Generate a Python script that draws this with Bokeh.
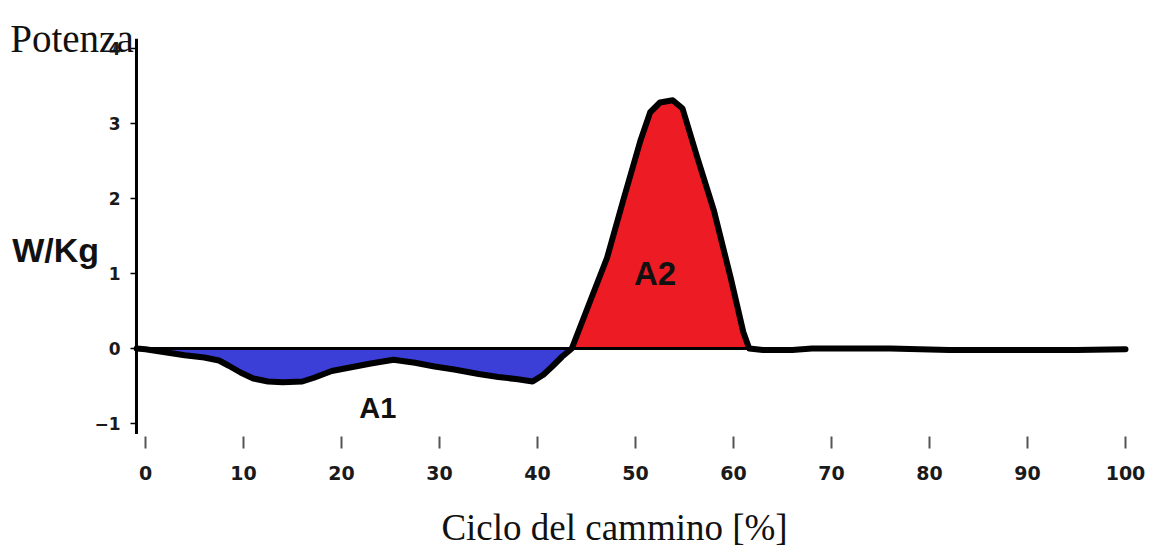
import numpy as np
from bokeh.plotting import figure
from bokeh.models import Range1d, FixedTicker, Label
from bokeh.embed import file_html
from bokeh.resources import INLINE

# Gait cycle (%) and ankle power (W/Kg)
cycle_pct = [-0.9, 0, 2, 4, 6, 7.5, 8.5, 9.7, 11, 12.5, 14, 16, 17.2, 19, 21, 23,
             25.3, 27.5, 29.5, 31.5, 34, 36, 38, 39.5, 40.6, 41.5, 42.5, 43.5,
             45.4, 47.1, 48.8, 50.5, 51.5, 52.5, 53.8, 54.8, 56.3, 58.0, 59.7,
             61.0, 61.6, 63, 66, 68, 72, 76, 82, 88, 95, 100]
power = [0.0, -0.01, -0.05, -0.09, -0.12, -0.16, -0.23, -0.32, -0.40, -0.44,
         -0.45, -0.44, -0.39, -0.30, -0.25, -0.20, -0.15, -0.19, -0.24, -0.28,
         -0.34, -0.38, -0.41, -0.44, -0.35, -0.24, -0.11, 0.0,
         0.64, 1.21, 2.00, 2.77, 3.15, 3.28, 3.31, 3.20, 2.55, 1.84, 0.95,
         0.22, 0.0, -0.02, -0.02, 0.0, 0.0, 0.0, -0.02, -0.02, -0.02, -0.01]

# Phase boundaries (absorption A1, generation A2)
a1_span = (0.0, 43.5)
a2_span = (43.5, 61.6)

x_ticks = [0, 10, 20, 30, 40, 50, 60, 70, 80, 90, 100]
y_ticks = [-1, 0, 1, 2, 3, 4]

# Where the axes sit and how far the vertical axis line reaches
y_axis_at = -0.92
x_axis_at = -1.173
y_axis_extent = (-1.14, 4.13)

x = np.array(cycle_pct)
y = np.array(power)

# The plotting frame fills the whole canvas; axes are pinned inside it
p = figure(width=1153, height=548, output_backend="svg", toolbar_location=None,
           x_range=Range1d(-145 / 9.8, 1008 / 9.8),
           y_range=Range1d(-200 / 75, 348 / 75),
           min_border=0)
p.outline_line_color = None
p.background_fill_color = "white"
p.border_fill_color = "white"
p.xgrid.visible = False
p.ygrid.visible = False

# Filled areas
m1 = (x >= a1_span[0]) & (x <= a1_span[1])
p.varea(x=x[m1], y1=np.minimum(y[m1], 0), y2=0, fill_color="#3b3fd8")
m2 = (x >= a2_span[0]) & (x <= a2_span[1])
p.varea(x=x[m2], y1=0, y2=np.maximum(y[m2], 0), fill_color="#ed1c24")

# Zero baseline and power curve
p.line(x=[x[0], 100], y=[0, 0], line_color="black", line_width=3)
p.line(x=x, y=y, line_color="black", line_width=6,
       line_join="round", line_cap="round")

# Vertical axis line
p.segment(x0=[y_axis_at], y0=[y_axis_extent[0]], x1=[y_axis_at],
          y1=[y_axis_extent[1]], line_color="black", line_width=3)

tick_font = "DejaVu Sans"

yax = p.yaxis[0]
yax.fixed_location = y_axis_at
yax.ticker = FixedTicker(ticks=y_ticks)
yax.axis_line_color = None
yax.major_tick_out = 6
yax.major_tick_in = 0
yax.major_tick_line_width = 1.5
yax.minor_tick_line_color = None
yax.major_label_standoff = 10
yax.major_label_text_font = tick_font
yax.major_label_text_font_style = "bold"
yax.major_label_text_font_size = "17px"
yax.major_label_text_color = "#1a1a1a"

xax = p.xaxis[0]
xax.fixed_location = x_axis_at
xax.ticker = FixedTicker(ticks=x_ticks)
xax.axis_line_color = None
xax.major_tick_out = 12
xax.major_tick_in = 0
xax.major_tick_line_width = 2
xax.major_tick_line_color = "#555555"
xax.minor_tick_line_color = None
xax.major_label_standoff = 18
xax.major_label_text_font = tick_font
xax.major_label_text_font_style = "bold"
xax.major_label_text_font_size = "19px"
xax.major_label_text_color = "#1a1a1a"

# Text annotations
p.add_layout(Label(x=-13.8, y=4.133, text="Potenza", text_font="Liberation Serif",
                   text_font_size="39px", text_color="#111111",
                   text_align="left", text_baseline="alphabetic"))
p.add_layout(Label(x=-13.6, y=1.307, text="W/Kg", text_font="Liberation Sans",
                   text_font_size="34px", text_font_style="bold", text_color="#111111",
                   text_align="left", text_baseline="alphabetic"))
p.add_layout(Label(x=47.86, y=-2.387, text="Ciclo del cammino [%]",
                   text_font="Liberation Serif", text_font_size="37px",
                   text_color="#111111", text_align="center",
                   text_baseline="alphabetic"))
p.add_layout(Label(x=23.7, y=-0.787, text="A1", text_font="Liberation Sans",
                   text_font_size="29px", text_font_style="bold", text_color="#111111",
                   text_align="center", text_baseline="alphabetic"))
p.add_layout(Label(x=52.0, y=1.0, text="A2", text_font="Liberation Sans",
                   text_font_size="33px", text_font_style="bold", text_color="#111111",
                   text_align="center", text_baseline="alphabetic"))

open("out.html", "w").write(file_html(p, INLINE))
